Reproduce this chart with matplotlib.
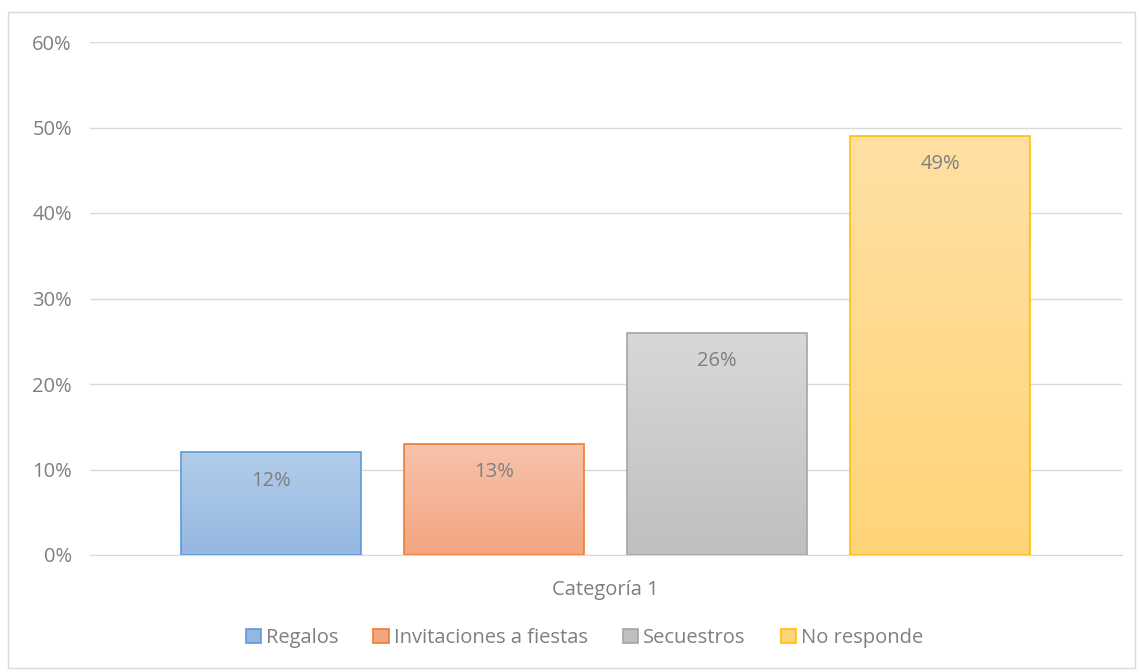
import numpy as np
import matplotlib.pyplot as plt
from matplotlib.patches import Rectangle
from matplotlib.colors import LinearSegmentedColormap
from matplotlib.ticker import PercentFormatter

# data
series = ["Regalos", "Invitaciones a fiestas", "Secuestros", "No responde"]
values = [0.12, 0.13, 0.26, 0.49]
category = "Categoría 1"
yticks = [0, 0.1, 0.2, 0.3, 0.4, 0.5, 0.6]

# (top colour, bottom colour, edge colour)
styles = [
    ("#b3cdea", "#94b7e1", "#5b9bd5"),
    ("#f7c3ac", "#f3a580", "#ed7d31"),
    ("#d8d8d8", "#bfbfbf", "#a5a5a5"),
    ("#ffe0a3", "#ffd478", "#ffc000"),
]
text_col = "#7f7f7f"
font = "Open Sans"
fs = 14.5

fig = plt.figure(figsize=(11.39, 6.72), dpi=100)
fig.patches.append(Rectangle((8 / 1139, 4 / 672), 1127 / 1139, 656 / 672,
                             transform=fig.transFigure, fill=False,
                             edgecolor="#d9d9d9", linewidth=1))
ax = fig.add_axes([90 / 1139, 1 - 555 / 672, 1032 / 1139, 513 / 672])

width = 180 / 223
xs = np.arange(len(values))
bars = ax.bar(xs, values, width=width, zorder=3)
grad = np.linspace(0, 1, 256).reshape(-1, 1)
for bar, (top, bot, edge), v, name in zip(bars, styles, values, series):
    bar.set_facecolor("none")
    bar.set_edgecolor(edge)
    bar.set_linewidth(1.2)
    bar.set_label(name)
    cmap = LinearSegmentedColormap.from_list("g", [bot, top])
    x0 = bar.get_x()
    im = ax.imshow(grad, cmap=cmap, origin="lower", aspect="auto",
                   extent=[x0, x0 + width, 0, v], zorder=2)
    im.set_clip_path(bar)
    ax.text(x0 + width / 2, v - 0.033, f"{round(v * 100)}%", ha="center",
            va="center", color=text_col, fontsize=fs, family=font, zorder=4)

ax.set_xlim(-0.812, 3.816)
ax.set_ylim(0, 0.6)
ax.set_yticks(yticks)
ax.yaxis.set_major_formatter(PercentFormatter(1.0, decimals=0))
ax.set_xticks([1.5])
ax.set_xticklabels([category])
ax.tick_params(axis="both", length=0, labelsize=fs, labelcolor=text_col, pad=13)
for lbl in ax.get_xticklabels() + ax.get_yticklabels():
    lbl.set_family(font)
ax.tick_params(axis="x", pad=18)
ax.grid(axis="y", color="#d9d9d9", linewidth=1, zorder=0)
for s in ["top", "right", "left"]:
    ax.spines[s].set_visible(False)
ax.spines["bottom"].set_color("#d9d9d9")

handles = [Rectangle((0, 0), 1, 1, facecolor=st[1], edgecolor=st[2], linewidth=1.2)
           for st in styles]
fig.legend(handles, series, loc="center", bbox_to_anchor=(0.513, 1 - 638 / 672),
           ncol=4, frameon=False, handlelength=0.75, handleheight=0.75,
           handletextpad=0.25, columnspacing=1.75,
           prop={"family": font, "size": fs}, labelcolor=text_col)

fig.savefig("out.png", dpi=100)
